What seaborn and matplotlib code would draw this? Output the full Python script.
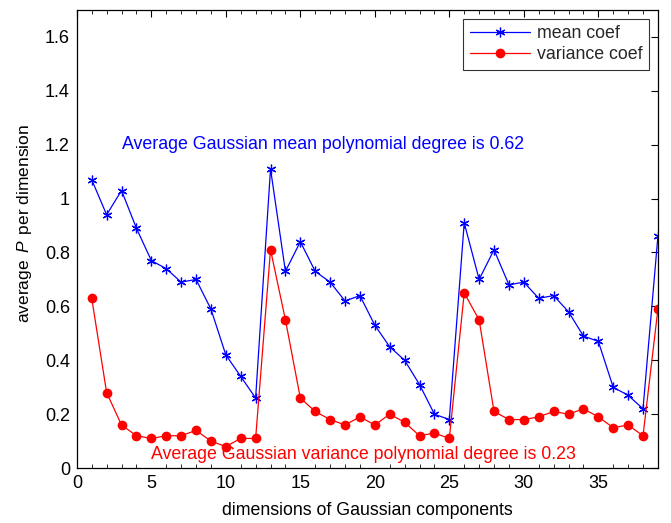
import matplotlib
matplotlib.use("Agg")
import matplotlib.pyplot as plt
import seaborn as sns
import numpy as np
import pandas as pd
from matplotlib.ticker import MultipleLocator, FormatStrFormatter

dims = list(range(1, 40))
mean_coef = [1.07, 0.94, 1.03, 0.89, 0.77, 0.74, 0.69, 0.70, 0.59, 0.42,
             0.34, 0.26, 1.11, 0.73, 0.84, 0.73, 0.69, 0.62, 0.64, 0.53,
             0.45, 0.40, 0.31, 0.20, 0.18, 0.91, 0.70, 0.81, 0.68, 0.69,
             0.63, 0.64, 0.58, 0.49, 0.47, 0.30, 0.27, 0.22, 0.86]
variance_coef = [0.63, 0.28, 0.16, 0.12, 0.11, 0.12, 0.12, 0.14, 0.10, 0.08,
                 0.11, 0.11, 0.81, 0.55, 0.26, 0.21, 0.18, 0.16, 0.19, 0.16,
                 0.20, 0.17, 0.12, 0.13, 0.11, 0.65, 0.55, 0.21, 0.18, 0.18,
                 0.19, 0.21, 0.20, 0.22, 0.19, 0.15, 0.16, 0.12, 0.59]
series_labels = ["mean coef", "variance coef"]
mean_text = "Average Gaussian mean polynomial degree is 0.62"
var_text = "Average Gaussian variance polynomial degree is 0.23"

sns.set_theme(style="white")
plt.rcParams['font.family'] = ['Liberation Sans', 'DejaVu Sans']
plt.rcParams['mathtext.fontset'] = 'custom'
plt.rcParams['mathtext.it'] = 'Liberation Sans:italic'
plt.rcParams['mathtext.rm'] = 'Liberation Sans'

fig = plt.figure(figsize=(6.71, 5.23), dpi=100)
ax = fig.add_axes([0.1145, 0.105, 0.866, 0.876])

df = pd.DataFrame({"dim": dims, "mean": mean_coef, "var": variance_coef})
sns.lineplot(data=df, x="dim", y="mean", ax=ax, color="#0000ff", lw=0.9,
             marker=(6, 2, 0), markersize=7, markeredgewidth=0.9,
             markeredgecolor="#0000ff", label=series_labels[0])
sns.lineplot(data=df, x="dim", y="var", ax=ax, color="#ff0000", lw=0.9,
             marker="o", markersize=7, markeredgewidth=0,
             markerfacecolor="#ff0000", label=series_labels[1])

ax.set_xlim(0, 39)
ax.set_ylim(0, 1.7)
ax.xaxis.set_major_locator(MultipleLocator(5))
ax.xaxis.set_minor_locator(MultipleLocator(1))
ax.yaxis.set_major_locator(MultipleLocator(0.2))
ax.yaxis.set_major_formatter(FormatStrFormatter('%g'))
ax.xaxis.set_major_formatter(FormatStrFormatter('%g'))
ax.tick_params(axis='both', which='major', direction='in', length=5, width=0.8,
               top=True, right=True, labelsize=13, colors='black', pad=5)
ax.tick_params(axis='x', which='minor', direction='in', length=3, width=0.7,
               top=True, bottom=True)
ax.tick_params(axis='y', which='minor', left=False, right=False)
for s in ax.spines.values():
    s.set_color('black')
    s.set_linewidth(0.9)

ax.set_xlabel("dimensions of Gaussian components", fontsize=12.8, color='black', labelpad=7)
ax.set_ylabel(r"average $\,P\,$ per dimension", fontsize=12.5, color='black', labelpad=8)
ax.yaxis.set_label_coords(-0.073, 0.533)

ax.text(3.0, 1.2, mean_text, color="#0000ff", fontsize=12.8, va='center', ha='left')
ax.text(5.0, 0.05, var_text, color="#ff0000", fontsize=12.8, va='center', ha='left')

leg = ax.legend(loc='upper right', fontsize=12.8, handlelength=3.4, frameon=True,
                fancybox=False, shadow=False, borderpad=0.35, labelspacing=0.25,
                handletextpad=0.4, borderaxespad=0.5)
leg.get_frame().set_edgecolor('black')
leg.get_frame().set_linewidth(0.8)

fig.savefig("out.png", dpi=100)
